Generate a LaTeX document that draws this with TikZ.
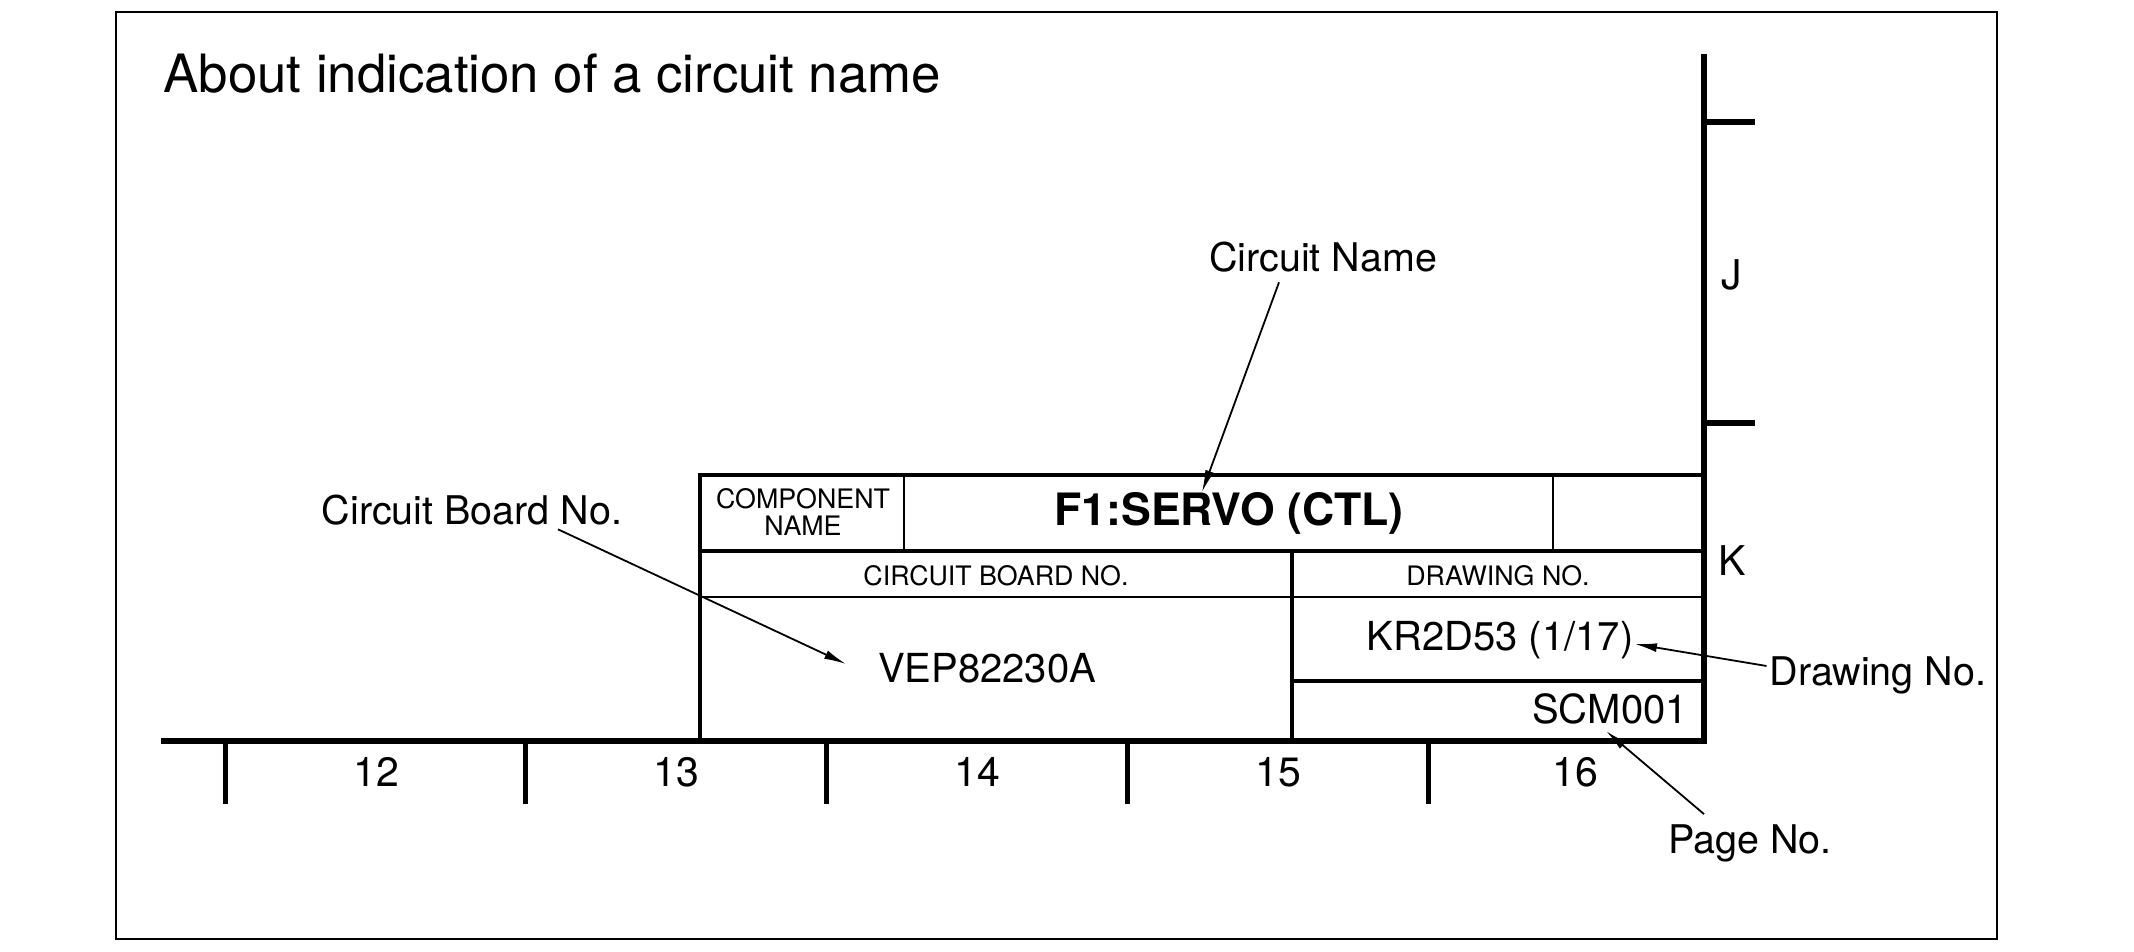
\documentclass[tikz,border=0pt]{standalone}
\usepackage{fontspec}
\setmainfont{TeX Gyre Heros}
\usetikzlibrary{arrows.meta}
\begin{document}
\begin{tikzpicture}[x=1pt,y=-1pt,
  axisline/.style={line width=6pt},
  tbl/.style={line width=3.5pt},
  thin/.style={line width=2pt},
  callout/.style={line width=1.8pt,-{Latex[length=22pt,width=9pt]}},
  lbl/.style={inner sep=0pt,font=\fontsize{39.5}{44}\selectfont},
  axlbl/.style={inner sep=0pt,font=\fontsize{41}{45}\selectfont},
  small/.style={inner sep=0pt,font=\fontsize{26.8}{27}\selectfont},
  mid/.style={inner sep=0pt,font=\fontsize{40}{44}\selectfont}]
\useasboundingbox (0,0) rectangle (2134,952);
% frame
\draw[line width=2pt] (116,12) rectangle (1997,939);
% title
\node[anchor=base west,inner sep=0pt,font=\fontsize{52.8}{56}\selectfont] (title) at (163,93) {About indication of a circuit name};
% axes
\draw[axisline] (1704,54) -- (1704,744);
\draw[axisline] (161,741) -- (1707,741);
\foreach \yy in {122,423} \draw[axisline] (1704,\yy) -- (1755,\yy);
\foreach \xx in {225,525,826,1127,1428} \draw[line width=5pt] (\xx,741) -- (\xx,804);
\node[axlbl] (n12) at (376,772) {12};
\node[axlbl] (n13) at (676,772) {13};
\node[axlbl] (n14) at (977,772) {14};
\node[axlbl] (n15) at (1278,772) {15};
\node[axlbl] (n16) at (1575,772) {16};
\node[axlbl] (J) at (1732,275) {J};
\node[axlbl] (K) at (1732,561) {K};
% table
\draw[tbl] (700,741) -- (700,475) -- (1704,475);
\draw[tbl] (700,551) -- (1704,551);
\draw[thin] (904,475) -- (904,551);
\draw[thin] (1553,475) -- (1553,551);
\draw[thin] (700,597) -- (1704,597);
\draw[tbl] (1292,551) -- (1292,741);
\draw[tbl] (1292,681) -- (1704,681);
% table texts
\node[small,align=center] (comp) at (803,512) {COMPONENT\\NAME};
\node[inner sep=0pt,font=\bfseries\fontsize{44.6}{48}\selectfont] (servo) at (1229,513) {F1:SERVO (CTL)};
\node[small] (cbn) at (996,576) {CIRCUIT BOARD NO.};
\node[small] (dwn) at (1498,576) {DRAWING NO.};
\node[mid] (vep) at (987,668) {VEP82230A};
\node[mid] (kr) at (1500,640) {KR2D53 (1/17)};
\node[mid,anchor=east] (scm) at (1688,709) {SCM001};
% callouts
\node[lbl] (lcn) at (1323,257) {Circuit Name};
\node[lbl] (lcb) at (472,510) {Circuit Board No.};
\node[lbl] (ldn) at (1878,675) {Drawing No.};
\node[lbl] (lpn) at (1750,843) {Page No.};
\coordinate (tcn) at (1202,492);
\coordinate (tcb) at (846,664);
\coordinate (tdn) at (1635,644);
\coordinate (tpn) at (1606,731);
\draw[callout] (lcn.south) ++(-44,10) coordinate (scn) -- (tcn);
\draw[callout] (lcb.south) ++(86,4) coordinate (scb) -- (tcb);
\draw[callout] (ldn.west) ++(-3,-9) coordinate (sdn) -- (tdn);
\draw[callout] (lpn.north) ++(-46,-10) coordinate (spn) -- (tpn);
\end{tikzpicture}
\end{document}
